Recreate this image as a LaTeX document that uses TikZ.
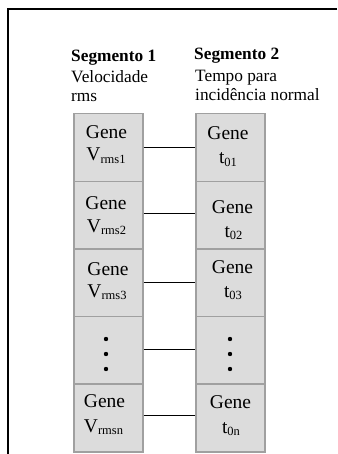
\documentclass[tikz,border=0pt]{standalone}
\usepackage{fontspec}
\setmainfont{Liberation Serif}
\definecolor{cellfill}{HTML}{DCDCDC}
\definecolor{celldraw}{HTML}{A0A0A0}
\newcommand{\hdrfont}{\fontsize{17.3}{20}\selectfont}
\newcommand{\cellfont}{\fontsize{19.5}{22}\selectfont}
\newcommand{\mysubs}[1]{\raisebox{-2.6pt}{\fontsize{12.5}{14}\selectfont #1}}
\begin{document}
\begin{tikzpicture}[x=1pt,y=-1pt,
  cell/.style={draw=celldraw,fill=cellfill,line width=1.5pt,rectangle,minimum width=69pt,minimum height=67.6pt,inner sep=0pt,anchor=north west},
  txt/.style={inner sep=0pt,anchor=base,font=\cellfont},
  hd/.style={inner sep=0pt,anchor=base west,font=\hdrfont},
  link/.style={draw=black,line width=1.3pt},
  dot/.style={circle,fill=black,inner sep=0pt,minimum size=4.4pt}]
\useasboundingbox (0,0) rectangle (337,454);
\fill[white] (0,0) rectangle (337,454);
\draw[line width=2pt] (337,9) -- (8,9) -- (8,454);
% headers
\node[hd] (h1) at (71,62) {\bfseries Segmento 1};
\node[hd] (h1a) at (71,83) {Velocidade};
\node[hd] (h1b) at (71,102) {rms};
\node[hd] (h2) at (194,60) {\bfseries Segmento 2};
\node[hd] (h2a) at (195,82) {Tempo para};
\node[hd] (h2b) at (195,101) {incidência normal};
% cells
\foreach \i [evaluate=\i as \yy using {113+67.6*(\i-1)}] in {1,...,5} {
  \node[cell] (L\i) at (73,\yy) {};
  \node[cell] (R\i) at (195,\yy) {};
}
% links
\draw[link] (L1.east) -- (R1.west);
\draw[link] ([yshift=1.5pt]L2.east) -- ([yshift=1.5pt]R2.west);
\draw[link] (L3.east) -- (R3.west);
\draw[link] ([yshift=1pt]L4.east) -- ([yshift=1pt]R4.west);
\draw[link] ([yshift=2.5pt]L5.east) -- ([yshift=2.5pt]R5.west);
% left texts
\node[txt] (lg1) at (106.5,139) {Gene};
\node[txt] (lv1) at (106,161) {V\mysubs{rms1}};
\node[txt] (lg2) at (106,209) {Gene};
\node[txt] (lv2) at (106.5,232) {V\mysubs{rms2}};
\node[txt] (lg3) at (108,275) {Gene};
\node[txt] (lv3) at (107,297) {V\mysubs{rms3}};
\node[txt] (lg5) at (104.5,407) {Gene};
\node[txt] (lv5) at (103.5,432) {V\mysubs{rmsn}};
% right texts
\node[txt] (rg1) at (228,140) {Gene};
\node[txt] (rt1) at (228,164) {t\mysubs{01}};
\node[txt] (rg2) at (232.5,213) {Gene};
\node[txt] (rt2) at (233.5,237) {t\mysubs{02}};
\node[txt] (rg3) at (232.5,273) {Gene};
\node[txt] (rt3) at (233,297) {t\mysubs{03}};
\node[txt] (rg5) at (230.5,408) {Gene};
\node[txt] (rt5) at (231,433) {t\mysubs{0n}};
% dots
\foreach \k/\yy in {a/339,b/354,c/369} {
  \node[dot] (ld\k) at (106,\yy) {};
  \node[dot] (rd\k) at (230,\yy) {};
}
\end{tikzpicture}
\end{document}
